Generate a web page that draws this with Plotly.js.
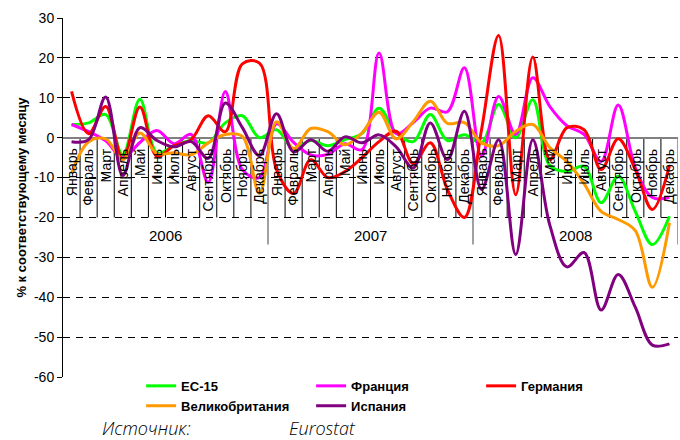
<!DOCTYPE html>
<html>
<head>
<meta charset="utf-8">
<script src="https://cdn.plot.ly/plotly-3.0.1.min.js"></script>
<style>html,body{margin:0;padding:0;background:#fff;}#chart{width:680px;height:440px;}</style>
</head>
<body>
<div id="chart"></div>
<script>
const months = ['Январь','Февраль','Март','Апрель','Май','Июнь','Июль','Август','Сентябрь','Октябрь','Ноябрь','Декабрь'];
const years = ['2006','2007','2008'];
const yTicks = [30, 20, 10, 0, -10, -20, -30, -40, -50, -60];

const ec15 = [3.3, 3.7, 5.8, -4.3, 9.6, -3.8, -2, -0.7, -1.3, 3.7, 5.5, 0,
              2, -2.8, -0.7, -2, -0.5, 1, 7.4, 1.2, -1, 5.8, -0.7, 0.7,
              -1.3, 8.3, 0, 9.5, -7, -8.5, -7.2, -16.3, -9.7, -18.5, -26.8, -19.7];
const france = [3.3, 1.5, -0.8, -5, -1.2, 1.8, -1.5, 0.8, -11.2, 11.6, -8, -10,
                3.5, -1.2, -4.3, -4.2, -1.5, -3, 21.2, 1, 3.8, 7.4, 6.5, 17.5,
                -4.7, 10.3, 0.8, 15, 7.8, 3, 0.8, -6, 8.2, -7.5, -15, -15];
const germany = [11.6, 1, 7.8, -5.5, 7.7, -4.7, -2, -0.5, 5.5, 1.5, 18.5, 18.7,
                 -8, -14, -5.5, -10, -8.5, -5, -1, 1.6, -6.5, -1.3, -13, -20,
                 2, 25.6, -14.3, 20.2, -5.5, 2.5, 2, -8, -0.3, -8, -18, -7];
const uk = [-9, -1, -0.3, -5.5, 1.2, -4, -3.8, -4.3, -1.3, 0.8, 0.3, -14,
            4, -2.8, 2.3, 1.5, -1.8, 1.2, 6.4, -0.3, 4, 9.1, 3.6, 3.8,
            -1.3, -2, 1.6, 3.3, -2.5, -6, -11.5, -18.5, -20.5, -23.3, -37.5, -21.3];
const spain = [-1, -0.5, 10.2, -9.5, 2.5, -0.7, -2.3, -1, -5.2, 8.7, 2.5, -4.5,
               6, -3.6, -0.5, -3.4, 0.2, -1.3, 0.7, -2.3, -7.6, 3.7, -5.5, 6.6,
               -13, -0.5, -29.3, -0.5, -22, -32.4, -28.8, -43.2, -34.3, -42.5, -52, -51.7];

const seriesNames = ['ЕС-15','Франция','Германия','Великобритания','Испания'];
const seriesData = [ec15, france, germany, uk, spain];
const seriesColors = ['#00ff00','#ff00ff','#ff0000','#ff9900','#800080'];

const allLabels = [];
years.forEach(y => months.forEach(m => allLabels.push(m)));
const xIdx = allLabels.map((_, i) => i);

const traces = seriesData.map((d, k) => ({
  x: xIdx, y: d, name: seriesNames[k], type: 'scatter', mode: 'lines',
  line: {color: seriesColors[k], width: 3, shape: 'spline', smoothing: 1},
  hoverinfo: 'skip'
}));

const annotations = [];
const shapes = [];
allLabels.forEach((lab, i) => {
  annotations.push({x: i, y: 0, xref: 'x', yref: 'y', text: lab, showarrow: false,
    textangle: -90, xanchor: 'center', yanchor: 'top', yshift: -9,
    font: {family: 'Liberation Sans, Arial, sans-serif', size: 14, color: '#000'}});
  if (i > 0 && i % 12 !== 0) {
    shapes.push({type: 'line', xref: 'x', yref: 'y', x0: i - 0.5, x1: i - 0.5, y0: 0, y1: -20,
      line: {color: '#000', width: 1}, layer: 'below'});
  }
});
years.forEach((yr, j) => {
  annotations.push({x: j * 12 + 5.5, y: -24.5, xref: 'x', yref: 'y', text: yr, showarrow: false,
    font: {family: 'Liberation Sans, Arial, sans-serif', size: 15, color: '#000'}});
  shapes.push({type: 'line', xref: 'x', yref: 'y', x0: (j + 1) * 12 - 0.5, x1: (j + 1) * 12 - 0.5, y0: 0, y1: -26.8,
    line: {color: '#808080', width: 1.5}, layer: 'below'});
});
annotations.push({xref: 'paper', yref: 'paper', x: 0.06, y: -0.142, xanchor: 'left', yanchor: 'middle',
  text: 'Источник:', showarrow: false,
  font: {family: 'Open Sans, DejaVu Sans, sans-serif', size: 18, style: 'italic', weight: 300, color: '#000'}});
annotations.push({xref: 'paper', yref: 'paper', x: 0.364, y: -0.142, xanchor: 'left', yanchor: 'middle',
  text: 'Eurostat', showarrow: false,
  font: {family: 'Open Sans, DejaVu Sans, sans-serif', size: 18, style: 'italic', weight: 300, color: '#000'}});

const layout = {
  width: 680, height: 440,
  margin: {l: 63, r: 2, t: 18, b: 63},
  paper_bgcolor: '#fff', plot_bgcolor: '#fff',
  font: {family: 'Liberation Sans, Arial, sans-serif', color: '#000'},
  showlegend: true,
  legend: {orientation: 'h', x: 0.127, xanchor: 'left', y: 0.017, yanchor: 'top',
    entrywidth: 125, entrywidthmode: 'pixels', bgcolor: 'rgba(0,0,0,0)',
    font: {family: 'Liberation Sans, Arial, sans-serif', size: 13, weight: 'bold', color: '#000'}},
  xaxis: {range: [-0.5, 35.5], showticklabels: false, showgrid: false, zeroline: false, showline: false, ticks: '', fixedrange: true},
  yaxis: {range: [-60, 30], tickmode: 'array', tickvals: yTicks, ticktext: yTicks.map(v => String(v)),
    showline: true, linecolor: '#000', linewidth: 1,
    ticks: 'outside', ticklen: 5, tickcolor: '#000',
    showgrid: true, gridcolor: '#000', gridwidth: 1, griddash: '7px,6px',
    zeroline: true, zerolinecolor: '#808080', zerolinewidth: 2,
    tickfont: {size: 14, color: '#000'},
    title: {text: '% к соответствующему месяцу', standoff: 4, font: {size: 13, weight: 'bold', color: '#000'}}},
  annotations: annotations,
  shapes: shapes
};

Plotly.newPlot('chart', traces, layout, {displayModeBar: false, staticPlot: true});
</script>
</body>
</html>
